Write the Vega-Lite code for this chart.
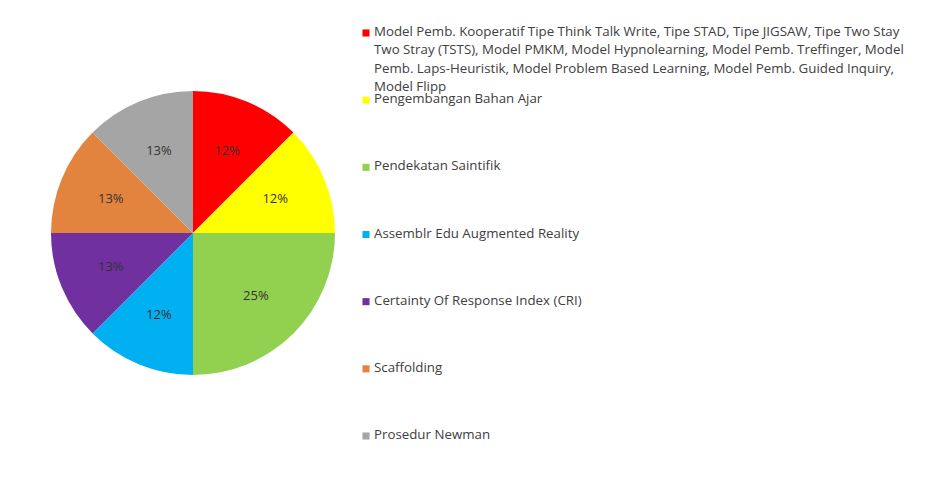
{
  "$schema": "https://vega.github.io/schema/vega-lite/v6.json",
  "padding": {"left": 51, "top": 8, "right": 0, "bottom": 0},
  "autosize": {"type": "pad"},
  "background": "white",
  "spacing": 27,
  "config": {"view": {"stroke": null}, "font": "Open Sans"},
  "data": {
    "values": [
      {"order": 1, "kategori": "Model Pemb. Kooperatif Tipe Think Talk Write, Tipe STAD, Tipe JIGSAW, Tipe Two Stay|Two Stray (TSTS), Model PMKM, Model Hypnolearning, Model Pemb. Treffinger, Model|Pemb. Laps-Heuristik, Model Problem Based Learning, Model Pemb. Guided Inquiry,|Model Flipp", "nilai": 12.5, "label": "12%"},
      {"order": 2, "kategori": "Pengembangan Bahan Ajar", "nilai": 12.5, "label": "12%"},
      {"order": 3, "kategori": "Pendekatan Saintifik", "nilai": 25, "label": "25%"},
      {"order": 4, "kategori": "Assemblr Edu Augmented Reality", "nilai": 12.5, "label": "12%"},
      {"order": 5, "kategori": "Certainty Of Response Index (CRI)", "nilai": 12.5, "label": "13%"},
      {"order": 6, "kategori": "Scaffolding", "nilai": 12.5, "label": "13%"},
      {"order": 7, "kategori": "Prosedur Newman", "nilai": 12.5, "label": "13%"}
    ]
  },
  "resolve": {"scale": {"color": "shared"}},
  "hconcat": [
    {
      "width": 284,
      "height": 450,
      "encoding": {
        "theta": {"field": "nilai", "type": "quantitative", "stack": true},
        "order": {"field": "order", "type": "ordinal"}
      },
      "layer": [
        {
          "mark": {"type": "arc", "outerRadius": 142},
          "encoding": {
            "color": {
              "field": "kategori",
              "type": "nominal",
              "sort": {"field": "order"},
              "scale": {"range": ["#FF0000", "#FFFF00", "#92D050", "#00B0F0", "#7030A0", "#E2843E", "#A5A5A5"]},
              "legend": null
            }
          }
        },
        {
          "mark": {"type": "text", "radius": 89, "fontSize": 13, "color": "#333333", "font": "Open Sans"},
          "encoding": {"text": {"field": "label"}}
        }
      ]
    },
    {
      "width": 8,
      "height": 453,
      "encoding": {
        "y": {
          "field": "kategori",
          "type": "nominal",
          "sort": {"field": "order"},
          "scale": {"type": "point", "padding": 0.372},
          "axis": null
        }
      },
      "layer": [
        {
          "mark": {"type": "square", "size": 50, "opacity": 1},
          "encoding": {
            "color": {
              "field": "kategori",
              "type": "nominal",
              "sort": {"field": "order"},
              "legend": null
            }
          }
        },
        {
          "mark": {"type": "text", "align": "left", "baseline": "top", "dx": 8, "dy": -8, "fontSize": 13.3, "lineHeight": 18.3, "color": "#404040", "font": "Open Sans", "lineBreak": "|"},
          "encoding": {"text": {"field": "kategori"}}
        }
      ]
    }
  ]
}
